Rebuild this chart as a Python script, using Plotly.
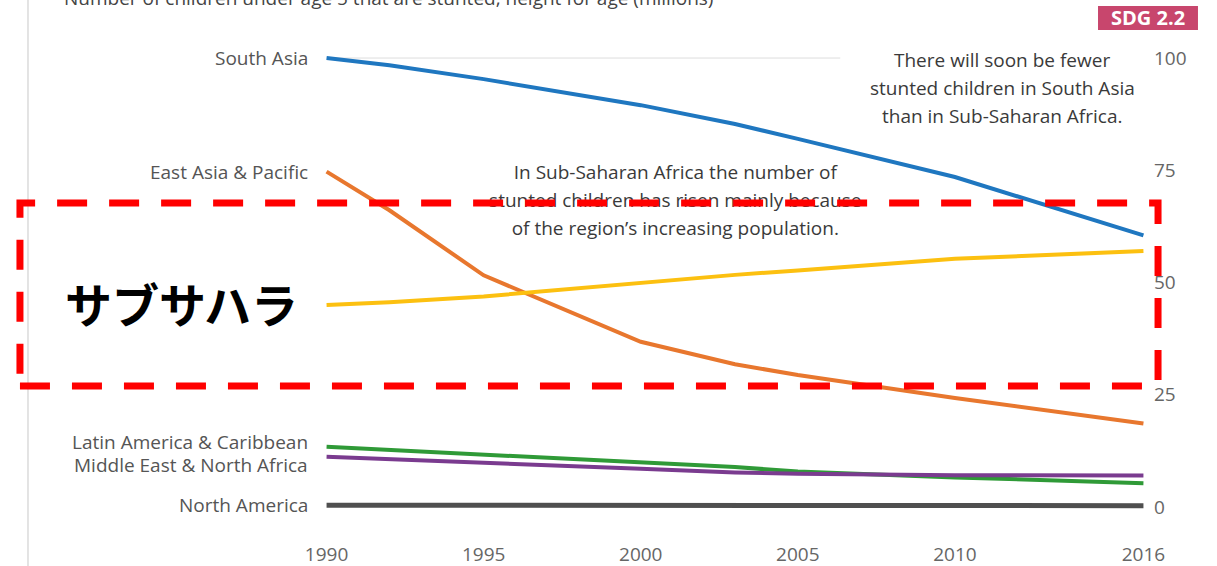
import plotly.graph_objects as go

years = [1990, 1992, 1995, 2000, 2003, 2005, 2010, 2016]
south_asia = [100.0, 98.4, 95.3, 89.5, 85.3, 82.0, 73.5, 60.5]
east_asia = [74.7, 66.1, 51.6, 36.8, 31.8, 29.4, 24.3, 18.6]
sub_saharan = [45.0, 45.6, 46.9, 50.0, 51.7, 52.7, 55.3, 57.0]
latin_america = [13.4, 12.7, 11.6, 9.9, 8.9, 7.9, 6.6, 5.3]
middle_east = [11.2, 10.7, 9.8, 8.5, 7.7, 7.4, 7.1, 7.0]
north_america = [0.4, 0.4, 0.3, 0.3, 0.3, 0.3, 0.3, 0.3]

series_names = ["South Asia", "East Asia & Pacific", "Sub-Saharan Africa",
                "Latin America & Caribbean", "Middle East & North Africa", "North America"]
series_values = [south_asia, east_asia, sub_saharan, latin_america, middle_east, north_america]
series_colors = ["#1f77c0", "#e8772e", "#fcc010", "#2f9a37", "#7a3b8f", "#4f4f4f"]
series_widths = [4, 4, 4, 4, 4, 5]

y_ticks = [0, 25, 50, 75, 100]
x_ticks = [1990, 1995, 2000, 2005, 2010, 2016]

title_text = "Number of children under age 5 that are stunted, height for age (millions)"
note_right = ["There will soon be fewer", "stunted children in South Asia", "than in Sub-Saharan Africa."]
note_mid = ["In Sub-Saharan Africa the number of", "stunted children has risen mainly because",
            "of the region\u2019s increasing population."]
badge_text = "SDG 2.2"
highlight_text = "サブサハラ"

FONT = "Open Sans"
GRAY = "#555555"
FS = 19

fig = go.Figure()
for name, vals, col, w in zip(series_names, series_values, series_colors, series_widths):
    fig.add_trace(go.Scatter(x=years, y=vals, mode="lines", name=name,
                             line=dict(color=col, width=w), showlegend=False,
                             hoverinfo="skip"))

# middle note as a text trace so the highlight rectangle is drawn over it
fig.add_trace(go.Scatter(x=[2001.1] * 3, y=[74.15, 67.95, 61.65], mode="text",
                         text=note_mid, textposition="middle center",
                         textfont=dict(family=FONT, size=FS, color="#3a3a3a"),
                         showlegend=False, hoverinfo="skip", cliponaxis=False))

annotations = []
label_shift = {"Latin America & Caribbean": 5, "Middle East & North Africa": -8}
for name, vals in zip(series_names, series_values):
    if name == "Sub-Saharan Africa":
        continue
    annotations.append(dict(x=-0.018, xref="paper", y=vals[0], yref="y",
                            text=name, showarrow=False, xanchor="right", yanchor="middle",
                            yshift=label_shift.get(name, 0),
                            font=dict(family=FONT, size=FS, color=GRAY)))
for i, line in enumerate(note_right):
    annotations.append(dict(x=2011.5, xref="x", y=[99.6, 93.3, 87.1][i], yref="y",
                            text=line, showarrow=False, xanchor="center", yanchor="middle",
                            bgcolor="white",
                            font=dict(family=FONT, size=FS, color="#3a3a3a")))
annotations.append(dict(x=-0.3207, xref="paper", y=1.064, yref="paper", text=title_text,
                        showarrow=False, xanchor="left", yanchor="middle",
                        font=dict(family=FONT, size=FS, color="#444444")))
annotations.append(dict(x=1.0037, xref="paper", y=1.024, yref="paper", text="<b>" + badge_text + "</b>",
                        showarrow=False, xanchor="center", yanchor="middle",
                        font=dict(family=FONT, size=20, color="white")))
annotations.append(dict(x=-0.1756, xref="paper", y=0.455, yref="paper", text="<b>" + highlight_text + "</b>",
                        showarrow=False, xanchor="center", yanchor="middle",
                        font=dict(family="Noto Sans CJK JP", size=47, color="black")))

shapes = [
    dict(type="line", xref="paper", yref="paper", x0=-0.3622, x1=-0.3622, y0=-0.1, y1=1.1,
         line=dict(color="#c8c8c8", width=1), layer="below"),
    dict(type="line", xref="x", yref="y", x0=1990, x1=2006.35, y0=100, y1=100,
         line=dict(color="#dddddd", width=1), layer="below"),
    dict(type="rect", xref="paper", yref="paper", x0=0.9427, x1=1.0646, y0=1.0, y1=1.048,
         fillcolor="#c8466d", line=dict(width=0), layer="above"),
    dict(type="rect", xref="paper", yref="paper", x0=-0.3720, x1=1.0159, y0=0.288, y1=0.654,
         line=dict(color="#ff0000", width=7, dash="30px,22px"), fillcolor="rgba(0,0,0,0)",
         layer="above"),
]

fig.update_layout(
    width=1217, height=580, autosize=False,
    margin=dict(l=325, r=72, t=30, b=50),
    paper_bgcolor="white", plot_bgcolor="white",
    annotations=annotations, shapes=shapes,
    xaxis=dict(range=[1989.95, 2016.05], tickvals=x_ticks, ticktext=[str(t) for t in x_ticks],
               showgrid=False, zeroline=False, showline=False, ticks="",
               ticklabelstandoff=11,
               tickfont=dict(family=FONT, size=FS, color="#666666")),
    yaxis=dict(range=[-5.12, 106.24], tickvals=y_ticks, side="right",
               showgrid=False, zeroline=False, showline=False, ticks="",
               ticklabelstandoff=8,
               tickfont=dict(family=FONT, size=FS, color="#666666")),
)

fig.write_html("out.html",
               config={"responsive": False, "displayModeBar": False},
               post_script="document.body.style.margin='0';document.body.style.overflow='hidden';")
